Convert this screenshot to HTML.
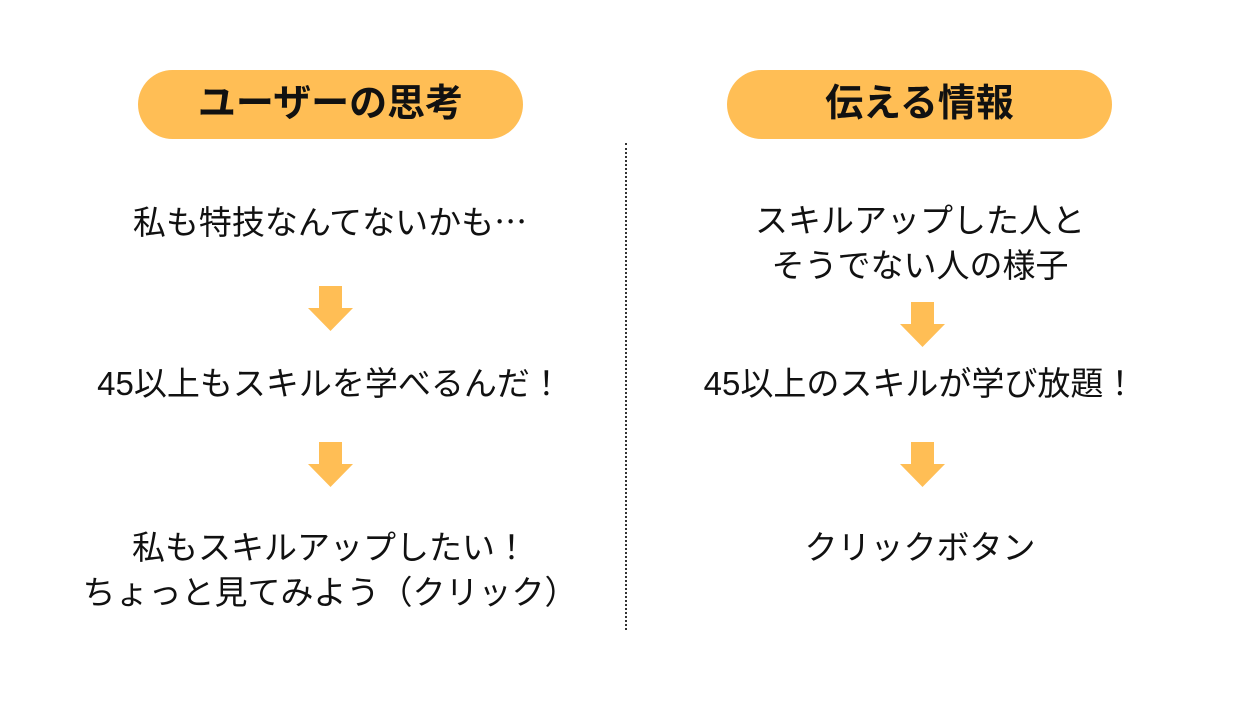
<!DOCTYPE html>
<html><head><meta charset="utf-8"><style>
body{margin:0;width:1250px;height:703px;background:#fff;position:relative;overflow:hidden;font-family:"Liberation Sans","Noto Sans CJK JP",sans-serif;color:#111}
.pill{position:absolute;top:70px;height:69px;width:385px;border-radius:35px;background:#FFBE55;font-weight:bold;font-size:38px;line-height:69px;text-align:center;color:#111}
.t{position:absolute;width:700px;text-align:center;font-size:33px;line-height:45px;white-space:nowrap}
.arr{position:absolute;width:45px;height:45px}
.j{font-family:"Noto Sans CJK JP",sans-serif}
</style></head><body>
<div class="pill" style="left:138px">ユーザーの思考</div>
<div class="pill" style="left:727px">伝える情報</div>
<div style="position:absolute;left:625px;top:143px;height:487px;border-left:2px dotted #333"></div>

<div class="t" style="left:-20px;top:198px">私も特技なんてないかも<span class="j">…</span></div>
<div class="t" style="left:-20px;top:361px">45以上もスキルを学べるんだ！</div>
<div class="t" style="left:-20px;top:525px">私もスキルアップしたい！<br>ちょっと見てみよう（クリック）</div>

<div class="t" style="left:570px;top:198px">スキルアップした人と<br>そうでない人の様子</div>
<div class="t" style="left:570px;top:361px">45以上のスキルが学び放題！</div>
<div class="t" style="left:570px;top:525px">クリックボタン</div>

<svg class="arr" style="left:308px;top:286px" viewBox="0 0 45 45"><polygon points="11,0 34,0 34,22 45,22 22.5,45 0,22 11,22" fill="#FFBE55"/></svg>
<svg class="arr" style="left:308px;top:442px" viewBox="0 0 45 45"><polygon points="11,0 34,0 34,22 45,22 22.5,45 0,22 11,22" fill="#FFBE55"/></svg>
<svg class="arr" style="left:900px;top:302px" viewBox="0 0 45 45"><polygon points="11,0 34,0 34,22 45,22 22.5,45 0,22 11,22" fill="#FFBE55"/></svg>
<svg class="arr" style="left:900px;top:442px" viewBox="0 0 45 45"><polygon points="11,0 34,0 34,22 45,22 22.5,45 0,22 11,22" fill="#FFBE55"/></svg>
</body></html>
